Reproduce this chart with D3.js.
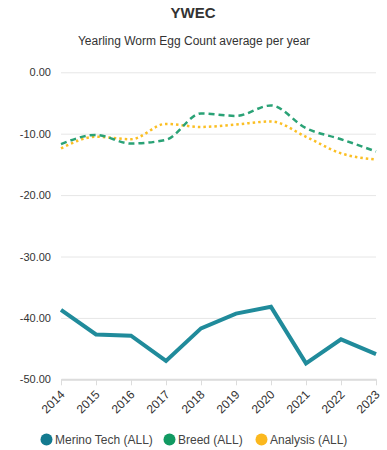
<!DOCTYPE html>
<html>
<head>
<meta charset="utf-8">
<script src="https://cdn.jsdelivr.net/npm/d3@7"></script>
<style>
  body { margin: 0; background: #fff; }
  svg { font-family: "Liberation Sans", Arial, sans-serif; }
</style>
</head>
<body>
<script>
// data
var years = [2014, 2015, 2016, 2017, 2018, 2019, 2020, 2021, 2022, 2023];
var merinoTech = [-38.7, -42.7, -42.9, -47.0, -41.7, -39.3, -38.2, -47.4, -43.5, -45.9];
var breed = [-11.7, -10.2, -11.6, -11.0, -6.7, -7.1, -5.4, -9.1, -10.9, -12.9];
var analysis = [-12.4, -10.5, -10.9, -8.4, -8.9, -8.5, -8.0, -10.5, -13.2, -14.2];
var yTicks = [0, -10, -20, -30, -40, -50];
var seriesNames = ["Merino Tech (ALL)", "Breed (ALL)", "Analysis (ALL)"];

var w = 387, h = 450;
var plotLeft = 61, plotRight = 376, plotTop = 72.3, plotBottom = 379.3;

var svg = d3.select("body").append("svg")
    .attr("width", w)
    .attr("height", h);

// titles
svg.append("text")
    .attr("x", 193).attr("y", 18)
    .attr("text-anchor", "middle")
    .attr("font-size", 15).attr("font-weight", "bold")
    .attr("fill", "#333")
    .text("YWEC");
svg.append("text")
    .attr("x", 194).attr("y", 45)
    .attr("text-anchor", "middle")
    .attr("font-size", 12)
    .attr("fill", "#333")
    .text("Yearling Worm Egg Count average per year");

var xScale = d3.scalePoint().domain(years).range([plotLeft, plotRight]);
var yScale = d3.scaleLinear().domain([-50, 0]).range([plotBottom, plotTop]);

// plain hyphen minus like the original
var fmt = function(d) { return d.toFixed(2); };

// y grid + labels
var yAxis = d3.axisLeft(yScale)
    .tickValues(yTicks)
    .tickSize(-(plotRight - plotLeft))
    .tickPadding(10)
    .tickFormat(fmt);
var gy = svg.append("g")
    .attr("transform", `translate(${plotLeft}, 0)`)
    .call(yAxis);
gy.select(".domain").remove();
gy.selectAll(".tick line").attr("stroke", "#e6e6e6");
gy.selectAll(".tick text")
    .attr("font-size", 11).attr("fill", "#333")
    .attr("font-family", "Liberation Sans, Arial, sans-serif");

// x axis
var xAxis = d3.axisBottom(xScale).tickSize(6).tickSizeOuter(0);
var gx = svg.append("g")
    .attr("transform", `translate(0, ${plotBottom})`)
    .call(xAxis);
gx.select(".domain").attr("stroke", "#dcdcdc").attr("stroke-width", 2);
gx.selectAll(".tick line").attr("stroke", "#dcdcdc");
gx.selectAll(".tick text")
    .attr("font-size", 12).attr("fill", "#333")
    .attr("font-family", "Liberation Sans, Arial, sans-serif")
    .attr("text-anchor", "end")
    .attr("x", 0).attr("y", 0)
    .attr("dy", "0.35em")
    .attr("transform", "translate(1,13) rotate(-45)");

function toPts(vals) {
    return years.map(function(y, i) { return { year: y, v: vals[i] }; });
}

var straight = d3.line()
    .x(function(d) { return xScale(d.year); })
    .y(function(d) { return yScale(d.v); });
var smooth = d3.line()
    .curve(d3.curveMonotoneX)
    .x(function(d) { return xScale(d.year); })
    .y(function(d) { return yScale(d.v); });

svg.append("path")
    .datum(toPts(analysis))
    .attr("fill", "none")
    .attr("stroke", "#fbbf24")
    .attr("stroke-width", 2.5)
    .attr("stroke-dasharray", "2.5,3")
    .attr("d", smooth);

svg.append("path")
    .datum(toPts(breed))
    .attr("fill", "none")
    .attr("stroke", "#2aa276")
    .attr("stroke-width", 2.5)
    .attr("stroke-dasharray", "6,4")
    .attr("d", smooth);

svg.append("path")
    .datum(toPts(merinoTech))
    .attr("fill", "none")
    .attr("stroke", "#208b9b")
    .attr("stroke-width", 4)
    .attr("stroke-linejoin", "miter")
    .attr("d", straight);

// legend
var legendColors = ["#137a8f", "#119a62", "#fbb81e"];
var legendX = [46.5, 169.5, 261.5];
var lg = svg.append("g");
seriesNames.forEach(function(name, i) {
    lg.append("circle")
        .attr("cx", legendX[i]).attr("cy", 439.5)
        .attr("r", 6)
        .attr("fill", legendColors[i]);
    lg.append("text")
        .attr("x", legendX[i] + 8.5).attr("y", 444)
        .attr("font-size", 12).attr("fill", "#444")
        .text(name);
});
</script>
</body>
</html>
